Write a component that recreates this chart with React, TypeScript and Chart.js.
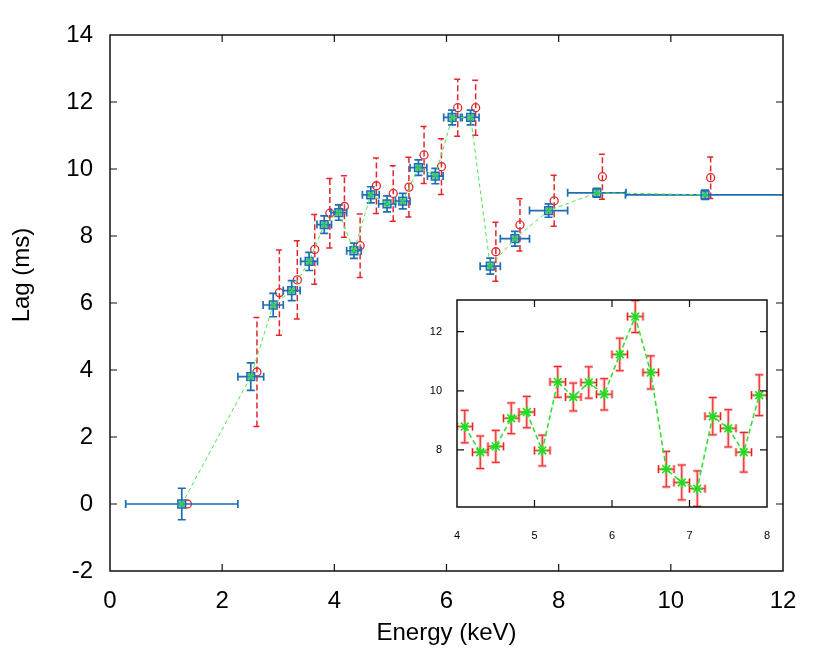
import React, { useEffect, useRef } from 'react';
import { Chart, registerables } from 'chart.js';

Chart.register(...registerables);

const FONT = "'Liberation Sans', Arial, Helvetica, sans-serif";

// ---- main panel: blue series (energy, energy error, lag, lag error) ----
const blueEnergy = [1.28, 2.51, 2.91, 3.24, 3.55, 3.82, 4.08, 4.35, 4.65, 4.94, 5.22, 5.5, 5.8, 6.1, 6.43, 6.78, 7.22, 7.82, 8.68, 10.61];
const blueEnergyErr = [1.0, 0.23, 0.18, 0.15, 0.15, 0.13, 0.14, 0.13, 0.15, 0.15, 0.13, 0.15, 0.14, 0.15, 0.15, 0.18, 0.26, 0.34, 0.52, 1.42];
const blueLag = [0.0, 3.8, 5.94, 6.37, 7.24, 8.34, 8.7, 7.56, 9.23, 8.96, 9.04, 10.04, 9.79, 11.54, 11.54, 7.1, 7.92, 8.76, 9.29, 9.23];
const blueLagErr = [0.47, 0.41, 0.35, 0.3, 0.27, 0.26, 0.23, 0.23, 0.24, 0.24, 0.23, 0.23, 0.23, 0.22, 0.22, 0.24, 0.22, 0.2, 0.13, 0.14];

// ---- main panel: red series ----
const redEnergy = [1.38, 2.62, 3.02, 3.34, 3.65, 3.92, 4.18, 4.46, 4.75, 5.05, 5.33, 5.6, 5.91, 6.2, 6.52, 6.88, 7.31, 7.92, 8.78, 10.71];
const redLag = [0.0, 3.94, 6.31, 6.69, 7.6, 8.68, 8.88, 7.71, 9.5, 9.27, 9.46, 10.42, 10.07, 11.83, 11.83, 7.53, 8.33, 9.05, 9.77, 9.74];
const redLagErr = [0, 1.63, 1.27, 1.17, 1.04, 1.04, 0.92, 0.95, 0.83, 0.83, 0.89, 0.85, 0.83, 0.85, 0.82, 0.88, 0.78, 0.76, 0.67, 0.62];

// ---- inset ----
const insetEnergy = [4.1, 4.3, 4.5, 4.7, 4.9, 5.1, 5.3, 5.5, 5.7, 5.9, 6.1, 6.3, 6.5, 6.7, 6.9, 7.1, 7.3, 7.5, 7.7, 7.9];
const insetEnergyErr = [0.1, 0.1, 0.1, 0.1, 0.1, 0.1, 0.1, 0.1, 0.1, 0.1, 0.1, 0.1, 0.1, 0.1, 0.1, 0.1, 0.1, 0.1, 0.1, 0.1];
const insetLag = [8.79, 7.92, 8.12, 9.07, 9.28, 7.98, 10.3, 9.79, 10.28, 9.88, 11.23, 12.51, 10.62, 7.35, 6.9, 6.69, 9.14, 8.73, 7.92, 9.85];
const insetLagErr = [0.55, 0.55, 0.54, 0.52, 0.53, 0.52, 0.52, 0.47, 0.53, 0.53, 0.55, 0.54, 0.56, 0.6, 0.59, 0.6, 0.63, 0.63, 0.67, 0.69];

// ---- ticks ----
const mainXTicks = [0, 2, 4, 6, 8, 10, 12];
const mainYTicks = [-2, 0, 2, 4, 6, 8, 10, 12, 14];
const insetXTicks = [4, 5, 6, 7, 8];
const insetYTicks = [8, 10, 12];

const xTitle = 'Energy (keV)';
const yTitle = 'Lag (ms)';

type Pass = { color: string; width: number; dash: number[]; cap: number; h: boolean; v: boolean };
const ERR_STYLES: Record<string, Pass[]> = {
  red: [{ color: '#e3262b', width: 1.5, dash: [6, 3], cap: 3.5, h: false, v: true }],
  blue: [{ color: '#1f6db3', width: 1.7, dash: [], cap: 4, h: true, v: true }],
  inset: [
    { color: 'rgba(245,130,130,0.6)', width: 3, dash: [], cap: 4, h: true, v: true },
    { color: '#f01e1e', width: 1, dash: [], cap: 4, h: true, v: true },
  ],
};

const errorBarPlugin = {
  id: 'errorBars',
  beforeDatasetDraw(chart: any, args: any) {
    const ds: any = chart.data.datasets[args.index];
    const passes = ds.errStyle ? ERR_STYLES[ds.errStyle] : null;
    if (!passes) return;
    const { ctx, chartArea: a, scales } = chart;
    const xs = scales.x;
    const ys = scales.y;
    ctx.save();
    ctx.beginPath();
    ctx.rect(a.left, a.top, a.right - a.left, a.bottom - a.top);
    ctx.clip();
    for (const p of passes) {
      ctx.strokeStyle = p.color;
      ctx.lineWidth = p.width;
      ctx.setLineDash(p.dash);
      ctx.lineCap = 'butt';
      args.meta.data.forEach((el: any, i: number) => {
        const d = ds.data[i];
        const cx = el.x;
        const cy = el.y;
        if (p.v && ds.errY && ds.errY[i] > 0) {
          const y1 = ys.getPixelForValue(d.y + ds.errY[i]);
          const y2 = ys.getPixelForValue(d.y - ds.errY[i]);
          ctx.beginPath();
          ctx.moveTo(cx, y2);
          ctx.lineTo(cx, y1);
          ctx.moveTo(cx - p.cap, y1);
          ctx.lineTo(cx + p.cap, y1);
          ctx.moveTo(cx - p.cap, y2);
          ctx.lineTo(cx + p.cap, y2);
          ctx.stroke();
        }
        if (p.h && ds.errX && ds.errX[i] > 0) {
          const x1 = xs.getPixelForValue(d.x - ds.errX[i]);
          const x2 = xs.getPixelForValue(d.x + ds.errX[i]);
          ctx.beginPath();
          ctx.moveTo(x1, cy);
          ctx.lineTo(x2, cy);
          ctx.moveTo(x1, cy - p.cap);
          ctx.lineTo(x1, cy + p.cap);
          ctx.moveTo(x2, cy - p.cap);
          ctx.lineTo(x2, cy + p.cap);
          ctx.stroke();
        }
      });
    }
    ctx.restore();
  },
};

const framePlugin = {
  id: 'frame',
  beforeDraw(chart: any, _a: any, opts: any) {
    if (!opts.fill) return;
    const { ctx, chartArea: a } = chart;
    ctx.save();
    ctx.fillStyle = '#ffffff';
    ctx.fillRect(a.left, a.top, a.right - a.left, a.bottom - a.top);
    ctx.restore();
  },
  afterDraw(chart: any, _a: any, opts: any) {
    const { ctx, chartArea: a, scales } = chart;
    const xs = scales.x;
    const ys = scales.y;
    const L = opts.tickLen;
    ctx.save();
    ctx.strokeStyle = '#111';
    ctx.lineWidth = opts.lineWidth;
    ctx.setLineDash([]);
    ctx.strokeRect(a.left, a.top, a.right - a.left, a.bottom - a.top);
    ctx.lineWidth = 1.2;
    ctx.beginPath();
    xs.ticks.forEach((t: any) => {
      const px = xs.getPixelForValue(t.value);
      if (px <= a.left + 1 || px >= a.right - 1) return;
      ctx.moveTo(px, a.bottom);
      ctx.lineTo(px, a.bottom - L);
      ctx.moveTo(px, a.top);
      ctx.lineTo(px, a.top + L);
    });
    ys.ticks.forEach((t: any) => {
      const py = ys.getPixelForValue(t.value);
      if (py <= a.top + 1 || py >= a.bottom - 1) return;
      ctx.moveTo(a.left, py);
      ctx.lineTo(a.left + L, py);
      ctx.moveTo(a.right, py);
      ctx.lineTo(a.right - L, py);
    });
    ctx.stroke();
    if (opts.titles) {
      ctx.fillStyle = '#000';
      ctx.font = `24px ${FONT}`;
      ctx.textAlign = 'center';
      ctx.textBaseline = 'alphabetic';
      ctx.fillText(xTitle, (a.left + a.right) / 2, 640);
      ctx.translate(28.5, 275);
      ctx.rotate(-Math.PI / 2);
      ctx.fillText(yTitle, 0, 0);
    }
    ctx.restore();
  },
};

const setTicks = (vals: number[]) => (s: any) => {
  s.ticks = vals.map((v) => ({ value: v }));
};

const fitX = (h: number) => (s: any) => {
  s.height = h;
  s.paddingLeft = 0;
  s.paddingRight = 0;
};
const fitY = (w: number) => (s: any) => {
  s.width = w;
  s.paddingTop = 0;
  s.paddingBottom = 0;
};

export default function App() {
  const mainRef = useRef<HTMLCanvasElement>(null);
  const insetRef = useRef<HTMLCanvasElement>(null);

  useEffect(() => {
    const bluePts = blueEnergy.map((e, i) => ({ x: e, y: blueLag[i] }));
    const redPts = redEnergy.map((e, i) => ({ x: e, y: redLag[i] }));
    const tickFont = { family: FONT, size: 24 };

    const main = new Chart(mainRef.current as HTMLCanvasElement, {
      type: 'scatter',
      data: {
        datasets: [
          {
            label: 'red',
            data: redPts,
            errY: redLagErr,
            errStyle: 'red',
            pointStyle: 'circle',
            pointRadius: 4,
            borderColor: '#e3262b',
            backgroundColor: 'rgba(0,0,0,0)',
            pointBorderWidth: 1.3,
            order: 3,
          } as any,
          {
            label: 'blue',
            data: bluePts,
            errX: blueEnergyErr,
            errY: blueLagErr,
            errStyle: 'blue',
            pointStyle: 'rect',
            pointRadius: 5.5,
            borderColor: '#1f6db3',
            backgroundColor: 'rgba(70,170,185,0.55)',
            pointBorderWidth: 1.5,
            order: 2,
          } as any,
          {
            type: 'line',
            label: 'green',
            data: bluePts,
            showLine: true,
            borderColor: '#4be84b',
            borderWidth: 1,
            borderDash: [4, 3],
            pointStyle: 'crossRot',
            pointRadius: 3.5,
            pointBorderColor: '#2fd82f',
            pointBackgroundColor: '#2fd82f',
            pointBorderWidth: 1.3,
            fill: false,
            tension: 0,
            order: 1,
          } as any,
        ],
      },
      options: {
        animation: false,
        responsive: false,
        devicePixelRatio: 1,
        events: [],
        layout: { autoPadding: false, padding: { top: 35, right: 47, bottom: 0, left: 0 } },
        plugins: {
          legend: { display: false },
          tooltip: { enabled: false },
          frame: { lineWidth: 1.5, tickLen: 7, titles: true, fill: false },
        } as any,
        scales: {
          x: {
            type: 'linear',
            min: 0,
            max: 12,
            afterBuildTicks: setTicks(mainXTicks),
            afterFit: fitX(93),
            grid: { display: false, drawTicks: false },
            border: { display: false },
            ticks: { font: tickFont, color: '#000', padding: 16, maxRotation: 0, autoSkip: false },
          },
          y: {
            type: 'linear',
            min: -2,
            max: 14,
            afterBuildTicks: setTicks(mainYTicks),
            afterFit: fitY(110),
            grid: { display: false, drawTicks: false },
            border: { display: false },
            ticks: { font: tickFont, color: '#000', padding: 17, autoSkip: false },
          },
        },
      },
      plugins: [errorBarPlugin, framePlugin],
    } as any);

    const insetPts = insetEnergy.map((e, i) => ({ x: e, y: insetLag[i] }));
    const smallFont = { family: FONT, size: 11 };
    const inset = new Chart(insetRef.current as HTMLCanvasElement, {
      type: 'scatter',
      data: {
        datasets: [
          {
            label: 'inset',
            data: insetPts,
            errX: insetEnergyErr,
            errY: insetLagErr,
            errStyle: 'inset',
            showLine: true,
            borderColor: '#33e033',
            borderWidth: 1.6,
            borderDash: [5, 3],
            pointStyle: 'star',
            pointRadius: 5.5,
            pointBorderColor: '#1fdc1f',
            pointBackgroundColor: '#1fdc1f',
            pointBorderWidth: 1.6,
            tension: 0,
          } as any,
        ],
      },
      options: {
        animation: false,
        responsive: false,
        devicePixelRatio: 1,
        events: [],
        layout: { autoPadding: false, padding: { top: 10, right: 5, bottom: 0, left: 0 } },
        plugins: {
          legend: { display: false },
          tooltip: { enabled: false },
          frame: { lineWidth: 1.5, tickLen: 7, titles: false, fill: true },
        } as any,
        scales: {
          x: {
            type: 'linear',
            min: 4,
            max: 8,
            afterBuildTicks: setTicks(insetXTicks),
            afterFit: fitX(43),
            grid: { display: false, drawTicks: false },
            border: { display: false },
            ticks: { font: smallFont, color: '#000', padding: 22, maxRotation: 0, autoSkip: false },
          },
          y: {
            type: 'linear',
            min: 6.07,
            max: 13.07,
            afterBuildTicks: setTicks(insetYTicks),
            afterFit: fitY(37),
            grid: { display: false, drawTicks: false },
            border: { display: false },
            ticks: { font: smallFont, color: '#000', padding: 15, autoSkip: false },
          },
        },
      },
      plugins: [errorBarPlugin, framePlugin],
    } as any);

    return () => {
      main.destroy();
      inset.destroy();
    };
  }, []);

  return (
    <div style={{ position: 'absolute', left: 0, top: 0, width: 830, height: 664, background: '#fff' }}>
      <canvas ref={mainRef} width={830} height={664} style={{ position: 'absolute', left: 0, top: 0 }} />
      <canvas ref={insetRef} width={352} height={260} style={{ position: 'absolute', left: 420, top: 290 }} />
    </div>
  );
}
